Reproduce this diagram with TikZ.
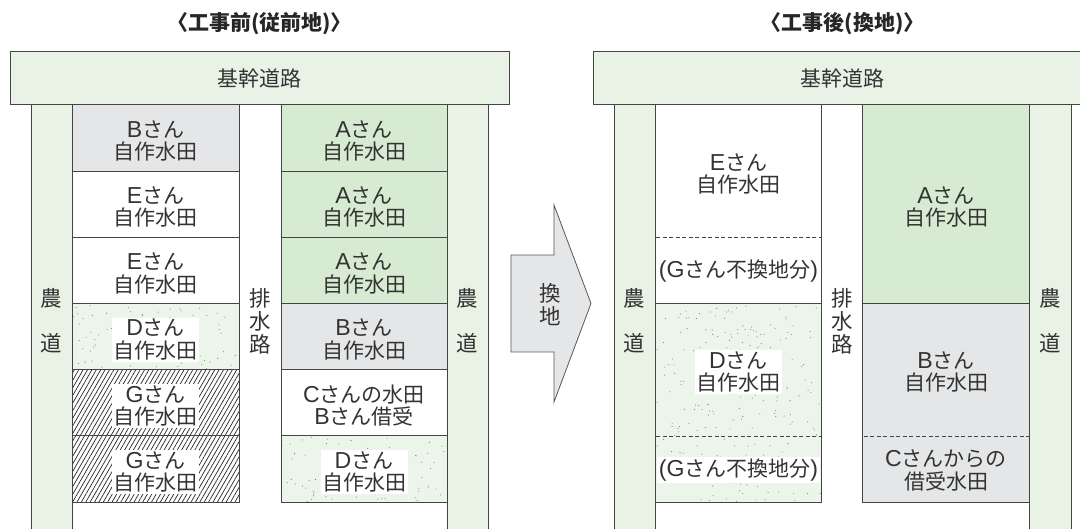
\documentclass[tikz,border=0pt]{standalone}
\usepackage{fontspec}
\setmainfont{Noto Sans CJK JP}
\newfontfamily\latf{Liberation Sans}[Scale=1.1]
\newcommand\lt[1]{{\latf #1}}
\usetikzlibrary{patterns.meta}
\definecolor{road}{HTML}{E8F3E6}
\definecolor{agreen}{HTML}{D7EBD2}
\definecolor{bgray}{HTML}{E5E6E7}
\definecolor{dgreen}{HTML}{EBF5E9}
\definecolor{edge}{HTML}{444444}
\definecolor{txt}{HTML}{333333}
\definecolor{dotc}{HTML}{7A837A}
\tikzset{
  plot/.style={draw=edge, line width=1pt},
  lbl/.style={text=txt, font=\fontsize{21}{22.5}\selectfont, align=center, inner sep=1.5pt},
  wlbl/.style={lbl, fill=white},
  vlbl/.style={text=txt, font=\fontsize{21.5}{23}\selectfont, align=center, inner sep=0pt},
  ttl/.style={text=black!85, font=\bfseries\fontsize{21}{22}\selectfont},
  divl/.style={draw=edge, line width=0.8pt, dash pattern=on 4pt off 2.5pt},
  hatchf/.style={pattern={Lines[angle=60,distance=3.8pt,line width=0.7pt]}, pattern color=black!85},
  arrowshape/.style={draw=edge!90, line width=0.8pt, fill=bgray},
}
\newcommand\sprinkle[5]{%
  \foreach \k in {1,...,#5}{%
    \pgfmathsetmacro\dx{#1+rnd*(#3-#1)}%
    \pgfmathsetmacro\dy{#2+rnd*(#4-#2)}%
    \fill[dotc] (\dx,\dy) circle[radius=0.55pt];}}
\begin{document}
\begin{tikzpicture}[x=1pt,y=-1pt]
\useasboundingbox (0,0) rectangle (1080,529);
\clip (0,0) rectangle (1080,529);
\fill[white] (0,0) rectangle (1080,529);
\pgfmathsetseed{7}

% ================= LEFT PANEL =================
\node[ttl] (t1) at (259.5,24) {〈工事前(従前地)〉};
\draw[plot, fill=road] (31,105) rectangle (72.3,545);
\draw[plot, fill=road] (447,105) rectangle (488.3,545);
\draw[plot, fill=road] (10,51.7) rectangle (509.3,105);
\node[lbl] (k1) at (259.5,78.4) {基幹道路};

% left column
\draw[plot, fill=bgray] (72.3,105) rectangle (239,171.2);
\draw[plot] (72.3,171.2) rectangle (239,237.4);
\draw[plot] (72.3,237.4) rectangle (239,303.6);
\fill[dgreen] (72.3,303.6) rectangle (239,369.8);
\sprinkle{73}{304.5}{238}{369}{80}
\draw[plot] (72.3,303.6) rectangle (239,369.8);
\draw[plot, hatchf] (72.3,369.8) rectangle (239,436);
\draw[plot, hatchf] (72.3,436) rectangle (239,502.2);

\node[lbl] (l1) at (155.6,141) {\lt{B}さん\\自作水田};
\node[lbl] (l2) at (155.6,207.2) {\lt{E}さん\\自作水田};
\node[lbl] (l3) at (155.6,273.4) {\lt{E}さん\\自作水田};
\node[wlbl] (l4) at (155.6,339.6) {\lt{D}さん\\自作水田};
\node[wlbl] (l5) at (155.6,405.8) {\lt{G}さん\\自作水田};
\node[wlbl] (l6) at (155.6,472) {\lt{G}さん\\自作水田};

% right column
\draw[plot, fill=agreen] (281,105) rectangle (447,171.2);
\draw[plot, fill=agreen] (281,171.2) rectangle (447,237.4);
\draw[plot, fill=agreen] (281,237.4) rectangle (447,303.6);
\draw[plot, fill=bgray] (281,303.6) rectangle (447,369.8);
\draw[plot] (281,369.8) rectangle (447,436);
\fill[dgreen] (281,436) rectangle (447,502.2);
\sprinkle{282}{437}{446}{501.5}{80}
\draw[plot] (281,436) rectangle (447,502.2);

\node[lbl] (m1) at (364,141) {\lt{A}さん\\自作水田};
\node[lbl] (m2) at (364,207.2) {\lt{A}さん\\自作水田};
\node[lbl] (m3) at (364,273.4) {\lt{A}さん\\自作水田};
\node[lbl] (m4) at (364,339.6) {\lt{B}さん\\自作水田};
\node[lbl] (m5) at (364,405.8) {\lt{C}さんの水田\\\lt{B}さん借受};
\node[wlbl] (m6) at (364,472) {\lt{D}さん\\自作水田};

\node[vlbl] (h1) at (260,321) {排\\水\\路};
\node[vlbl] (n1) at (51.6,298) {農};
\node[vlbl] (n2) at (51.6,343) {道};
\node[vlbl] (n3) at (467.6,298) {農};
\node[vlbl] (n4) at (467.6,343) {道};

% ================= ARROW =================
\draw[arrowshape] (511,255) -- (554,255) -- (554,205) -- (591,303.5) -- (554,402) -- (554,352) -- (511,352) -- cycle;
\node[vlbl] (x1) at (550,305) {換\\地};

% ================= RIGHT PANEL =================
\node[ttl] (t2) at (842.5,24) {〈工事後(換地)〉};
\draw[plot, fill=road] (614,105) rectangle (655.3,545);
\draw[plot, fill=road] (1029.5,105) rectangle (1071,545);
\draw[plot, fill=road] (593,51.7) rectangle (1095,105);
\node[lbl] (k2) at (842.5,78.4) {基幹道路};

% left column
\draw[plot] (655.3,105) rectangle (821.7,303.6);
\draw[divl] (656,237.4) -- (821,237.4);
\fill[dgreen] (655.3,303.6) rectangle (821.7,502.2);
\sprinkle{656}{304.5}{821}{501.5}{240}
\draw[plot] (655.3,303.6) rectangle (821.7,502.2);
\draw[divl] (656,436) -- (821,436);

\node[lbl] (p1) at (738.5,174) {\lt{E}さん\\自作水田};
\node[lbl] (p2) at (738.5,271) {\lt{(G}さん不換地分\lt{)}};
\node[wlbl] (p3) at (738.5,372) {\lt{D}さん\\自作水田};
\node[wlbl] (p4) at (738.5,470) {\lt{(G}さん不換地分\lt{)}};

% right column
\draw[plot, fill=agreen] (862.7,105) rectangle (1029.5,303.6);
\draw[plot, fill=bgray] (862.7,303.6) rectangle (1029.5,502.2);
\draw[divl] (863.5,436) -- (1028.5,436);

\node[lbl] (q1) at (946,207) {\lt{A}さん\\自作水田};
\node[lbl] (q2) at (946,372) {\lt{B}さん\\自作水田};
\node[lbl] (q3) at (946,470.5) {\lt{C}さんからの\\借受水田};

\node[vlbl] (h2) at (842.2,321) {排\\水\\路};
\node[vlbl] (n5) at (634.6,298) {農};
\node[vlbl] (n6) at (634.6,343) {道};
\node[vlbl] (n7) at (1050.3,298) {農};
\node[vlbl] (n8) at (1050.3,343) {道};
\end{tikzpicture}
\end{document}
